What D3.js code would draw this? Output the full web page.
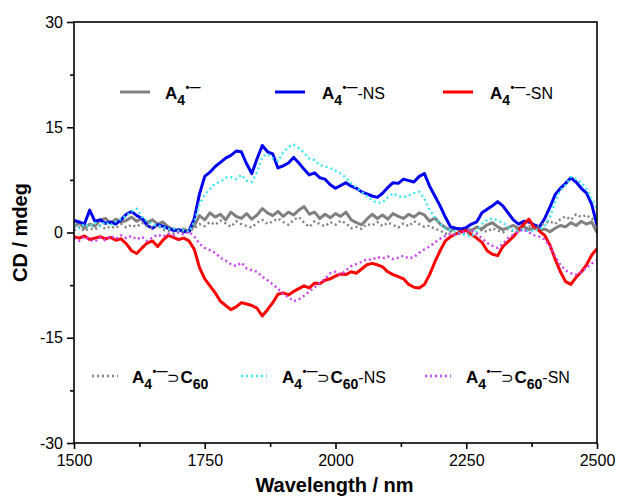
<!DOCTYPE html>
<html>
<head>
<meta charset="utf-8">
<script src="https://cdn.jsdelivr.net/npm/d3@7"></script>
<style>
  body { margin: 0; background: #fff; }
  text { font-family: Arial, "Liberation Sans", sans-serif; fill: #000; }
</style>
</head>
<body>
<svg id="chart" width="618" height="498"></svg>
<script>
// sampling grid (nm)
const wavelength = d3.range(1500, 2501, 10);

// CD values (mdeg), every 10 nm
const cdA4 = [
  0.8, 1.4, 0.6, 1.2, 0.9, 1.8, 2.0, 1.3, 1.9, 1.5,
  1.7, 2.2, 1.6, 2.0, 1.4, 1.8, 1.2, 1.5, 0.8, 0.4,
  0.2, 0.5, 0.1, 1.0, 2.4, 1.8, 2.8, 2.2, 2.6, 1.8,
  2.9, 2.3, 2.0, 2.7, 1.9, 2.5, 3.4, 2.8, 2.4, 3.0,
  2.3, 2.9, 2.5, 3.2, 3.7, 2.6, 2.9, 2.0, 2.6, 2.1,
  2.7, 2.3, 2.9, 1.8, 1.4, 1.1, 1.9, 2.6, 2.0, 2.5,
  1.9, 2.7, 2.3, 2.0, 2.6, 2.2, 2.8, 2.5, 1.6, 2.1,
  1.2, 0.7, 0.3, 0.6, 0.2, 0.5, 0.3, 0.8, 0.5, 1.1,
  1.4, 0.8, 0.4, 0.7, 1.0, 0.6, 0.9, 0.4, 0.7, 0.3,
  0.5, 0.1, 0.6, 1.0, 0.8, 1.4, 1.0, 1.6, 1.2, 1.5,
  0.0
];
const cdA4NS = [
  1.7, 1.5, 1.2, 3.2, 1.6, 1.8, 1.3, 1.5, 1.2, 1.8,
  2.6, 3.0, 2.4, 2.0, 1.0, 0.6, 1.1, 0.9, 0.6, 0.3,
  0.4, 0.1, 0.2, 2.0, 5.5, 8.0, 8.6, 9.4, 10.0, 10.6,
  11.0, 11.6, 11.5, 9.8, 8.4, 10.5, 12.4, 11.5, 11.2, 9.2,
  9.5, 9.9, 10.7, 9.9, 9.0, 8.2, 8.5, 7.8, 7.6, 6.8,
  6.3, 6.7, 7.1, 6.6, 6.3, 5.8, 5.5, 5.2, 5.0, 5.6,
  6.4, 7.1, 7.0, 7.6, 7.4, 7.2, 8.0, 8.4, 6.6, 5.2,
  3.8, 2.2, 0.8, 0.6, 0.5, 0.7, 1.2, 1.5, 2.8, 3.3,
  3.8, 4.4, 3.8, 2.8, 1.8, 1.2, 1.6, 1.5, 1.1, 0.8,
  2.0, 3.6, 5.4, 6.3, 7.0, 7.8, 7.2, 6.3, 5.6, 4.0,
  1.0
];
const cdA4SN = [
  -0.6, -0.8, -0.5, -1.0, -0.8, -0.6, -0.9, -0.7, -1.1, -0.9,
  -1.6, -2.6, -3.0, -2.2, -1.5, -1.2, -2.0, -1.1, -0.4, -0.7,
  -1.0, -0.8, -1.2, -2.4, -5.0, -6.6, -7.6, -8.6, -9.8, -10.4,
  -11.0, -10.6, -10.0, -10.2, -10.4, -10.8, -11.9, -11.0, -10.0, -8.8,
  -8.6, -8.9, -8.4, -8.0, -7.6, -7.9, -7.2, -7.3, -6.8, -6.6,
  -6.2, -5.9, -6.0, -5.6, -5.8, -5.2, -4.6, -4.4, -4.6, -4.9,
  -5.6, -6.0, -6.3, -6.6, -7.4, -7.8, -7.9, -7.4, -6.0, -4.2,
  -2.6, -1.2, -0.6, -0.2, 0.1, 0.3, -0.3, -0.8, -1.4, -2.6,
  -3.1, -3.3, -2.0, -1.3, -0.6, 0.3, 1.2, 1.9, 0.7, 0.2,
  -0.4, -1.8, -3.8, -5.6, -7.0, -7.4, -6.4, -5.6, -4.6, -3.2,
  -2.3
];
const cdC60 = [
  0.3, 0.8, 0.2, 0.6, 0.4, 1.0, 0.5, 0.9, 0.6, 1.2,
  0.7, 1.1, 0.8, 1.4, 0.9, 0.6, 1.0, 0.4, 0.2, -0.1,
  0.3, 0.0, 0.2, 0.6, 1.2, 0.9, 1.5, 1.1, 1.7, 1.3,
  0.8, 1.6, 1.2, 0.9, 0.7, 1.4, 1.8, 1.2, 1.6, 2.0,
  1.5, 1.1, 1.8, 2.2, 1.4, 0.8, 1.6, 1.2, 0.9, 1.5,
  1.1, 1.7, 1.3, 0.6, 0.8, 0.5, 1.2, 1.0, 1.5, 0.9,
  1.4, 1.1, 0.7, 1.3, 0.9, 1.6, 1.2, 0.8, 1.0, 0.5,
  0.3, -0.2, 0.1, -0.4, 0.0, -0.3, 0.2, -0.1, 0.4, 0.1,
  0.6, 0.3, 0.0, 0.5, 0.2, 0.7, 0.4, 0.9, 0.5, 1.0,
  1.3, 1.6, 1.2, 1.9, 2.3, 1.8, 2.6, 2.2, 2.5, 1.9,
  2.2
];
const cdC60NS = [
  1.0, 0.6, 1.2, 0.8, 1.4, 0.9, 1.5, 1.0, 1.6, 1.9,
  2.4, 3.0, 3.4, 2.2, 1.6, 1.2, 1.0, 0.8, 0.5, 0.6,
  0.2, 0.4, 0.1, 1.5, 4.0, 5.4, 6.2, 7.0, 7.2, 7.8,
  7.9, 7.6, 8.2, 7.4, 7.2, 8.6, 10.8, 11.2, 10.6, 10.2,
  11.4, 12.2, 12.5, 12.0, 11.4, 10.5, 10.3, 9.6, 9.4, 9.2,
  8.8, 8.4, 7.8, 7.0, 6.4, 5.8, 5.2, 4.6, 4.2, 4.3,
  5.0, 5.6, 5.2, 5.0, 5.3, 5.6, 5.8, 4.8, 3.2, 2.2,
  1.3, 0.6, 0.3, 0.1, -0.2, -0.4, -0.6, 0.2, 1.2, 1.8,
  2.0, 1.7, 1.4, 0.8, 0.3, 0.2, 0.4, 0.1, 0.3, 0.5,
  0.9, 2.2, 4.4, 6.0, 6.8, 7.9, 7.6, 7.1, 6.2, 4.8,
  3.4
];
const cdC60SN = [
  -0.8, -1.2, -0.6, -1.0, -1.3, -0.7, -1.1, -0.5, -0.9, -0.4,
  -0.8, -0.5, -1.0, -0.6, -1.2, -0.7, -0.3, -0.6, -0.2, -0.4,
  0.0, -0.3, 0.1, -0.6, -1.6, -2.2, -2.5, -2.9, -3.6, -4.0,
  -4.5, -4.8, -4.3, -5.1, -5.4, -5.6, -6.3, -6.8, -7.4, -8.0,
  -8.8, -9.2, -9.8, -9.5, -9.0, -8.4, -7.8, -7.2, -6.6, -5.8,
  -5.6, -6.0, -5.4, -4.8, -4.5, -4.2, -3.8, -3.9, -3.5, -3.7,
  -3.4, -3.8, -3.6, -3.3, -3.7, -3.5, -2.9, -2.4, -2.0, -1.4,
  -0.9, -0.5, -0.2, -0.4, 0.0, 0.2, 0.4, -0.2, -0.8, -1.5,
  -1.9, -2.2, -1.6, -0.8, -0.3, 0.2, 0.4, 0.0, -0.4, -0.6,
  -1.0, -2.0, -3.4, -4.6, -5.4, -5.8, -6.0, -5.6, -5.0, -4.4,
  -4.0
];

const xTicks = [1500, 1750, 2000, 2250, 2500];
const xMinor = [1625, 1875, 2125, 2375];
const yTicks = [-30, -15, 0, 15, 30];
const yMinor = [-22.5, -7.5, 7.5, 22.5];

// series: solid lines first, dotted C60 complexes on top
const series = [
  { id: 'A4',     values: cdA4,    color: '#808080', dotted: false },
  { id: 'A4NS',   values: cdA4NS,  color: '#0000f0', dotted: false },
  { id: 'A4SN',   values: cdA4SN,  color: '#ff0000', dotted: false },
  { id: 'C60',    values: cdC60,   color: '#808080', dotted: true },
  { id: 'C60NS',  values: cdC60NS, color: '#3ae8f2', dotted: true },
  { id: 'C60SN',  values: cdC60SN, color: '#cc3ff2', dotted: true }
];

const svg = d3.select('#chart');
const W = 618, H = 498;
const pL = 74, pR = 597, pT = 22, pB = 443;

const x = d3.scaleLinear().domain([1500, 2500]).range([pL, pR]);
const y = d3.scaleLinear().domain([-30, 30]).range([pB, pT]);

svg.append('rect').attr('width', W).attr('height', H).attr('fill', '#fff');

svg.append('clipPath').attr('id', 'plot-clip')
  .append('rect').attr('x', pL).attr('y', pT)
  .attr('width', pR - pL).attr('height', pB - pT);

const line = d3.line()
  .x((d, i) => x(wavelength[i]))
  .y(d => y(d));

const dots = '2,3';

const plot = svg.append('g').attr('clip-path', 'url(#plot-clip)');
series.forEach(s => {
  plot.append('path')
    .datum(s.values)
    .attr('fill', 'none')
    .attr('stroke', s.color)
    .attr('stroke-width', s.dotted ? 2.4 : 3)
    .attr('stroke-linejoin', 'round')
    .attr('stroke-dasharray', s.dotted ? dots : null)
    .attr('d', line);
});

// frame
svg.append('rect')
  .attr('x', pL).attr('y', pT)
  .attr('width', pR - pL).attr('height', pB - pT)
  .attr('fill', 'none').attr('stroke', '#000').attr('stroke-width', 1.6);

function styleAxis(g) {
  g.select('.domain').remove();
  g.selectAll('.tick line').attr('stroke', '#000').attr('stroke-width', 1.6);
  g.selectAll('.tick text').attr('font-size', 16).attr('fill', '#111');
}
const plain = d => String(d);

svg.append('g').attr('transform', `translate(0,${pB})`)
  .call(d3.axisBottom(x).tickValues(xTicks).tickSize(6).tickPadding(6).tickFormat(plain))
  .call(styleAxis);
svg.append('g').attr('transform', `translate(0,${pB})`)
  .call(d3.axisBottom(x).tickValues(xMinor).tickSize(4).tickFormat(''))
  .call(styleAxis);
svg.append('g').attr('transform', `translate(${pL},0)`)
  .call(d3.axisLeft(y).tickValues(yTicks).tickSize(7).tickPadding(4).tickFormat(plain))
  .call(styleAxis);
svg.append('g').attr('transform', `translate(${pL},0)`)
  .call(d3.axisLeft(y).tickValues(yMinor).tickSize(4).tickFormat(''))
  .call(styleAxis);

svg.append('text')
  .attr('x', (pL + pR) / 2 - 1).attr('y', 492)
  .attr('text-anchor', 'middle').attr('font-size', 20).attr('font-weight', 'bold')
  .text('Wavelength / nm');
svg.append('text')
  .attr('transform', `translate(27,${(pT + pB) / 2}) rotate(-90)`)
  .attr('text-anchor', 'middle').attr('font-size', 20).attr('font-weight', 'bold')
  .text('CD / mdeg');

// legend labels as runs: b = bold, sub / sup = shifted smaller text
const base = [{ t: 'A', b: 1 }, { t: '4', b: 1, sub: 1 }, { t: '\u2022\u2014', b: 1, sup: 1 }];
const cage = [{ t: '\u2283', sym: 1 }, { t: 'C', b: 1 }, { t: '60', b: 1, sub: 1 }];
const legendLabels = {
  A4: base,
  A4NS: base.concat([{ t: '-NS' }]),
  A4SN: base.concat([{ t: '-SN' }]),
  C60: base.concat(cage),
  C60NS: base.concat(cage, [{ t: '-NS' }]),
  C60SN: base.concat(cage, [{ t: '-SN' }])
};
// [line start x, line y, text start x]
const legendPos = {
  A4: [120, 92, 165], A4NS: [275, 92, 322], A4SN: [443, 92, 490],
  C60: [92, 376, 132], C60NS: [241, 376, 282], C60SN: [425, 376, 466]
};

series.forEach(s => {
  const [lx, ly, tx] = legendPos[s.id];
  const g = svg.append('g');
  g.append('line')
    .attr('x1', lx).attr('x2', lx + (s.dotted ? 26 : 30))
    .attr('y1', ly).attr('y2', ly)
    .attr('stroke', s.color)
    .attr('stroke-width', s.dotted ? 2.4 : 3)
    .attr('stroke-dasharray', s.dotted ? dots : null);
  const t = g.append('text').attr('x', tx).attr('y', ly + 7);
  let shift = 0;
  legendLabels[s.id].forEach(p => {
    const target = p.sub ? 6 : p.sup ? -8 : 0;
    const size = p.sup ? 11 : p.sub ? 14 : p.sym ? 15 : (p.b ? 17 : 16);
    t.append('tspan')
      .attr('dy', target - shift)
      .attr('dx', p.sup ? 0.5 : null)
      .attr('font-size', size)
      .attr('font-weight', p.b ? 'bold' : 'normal')
      .text(p.t);
    shift = target;
  });
});
</script>
</body>
</html>
